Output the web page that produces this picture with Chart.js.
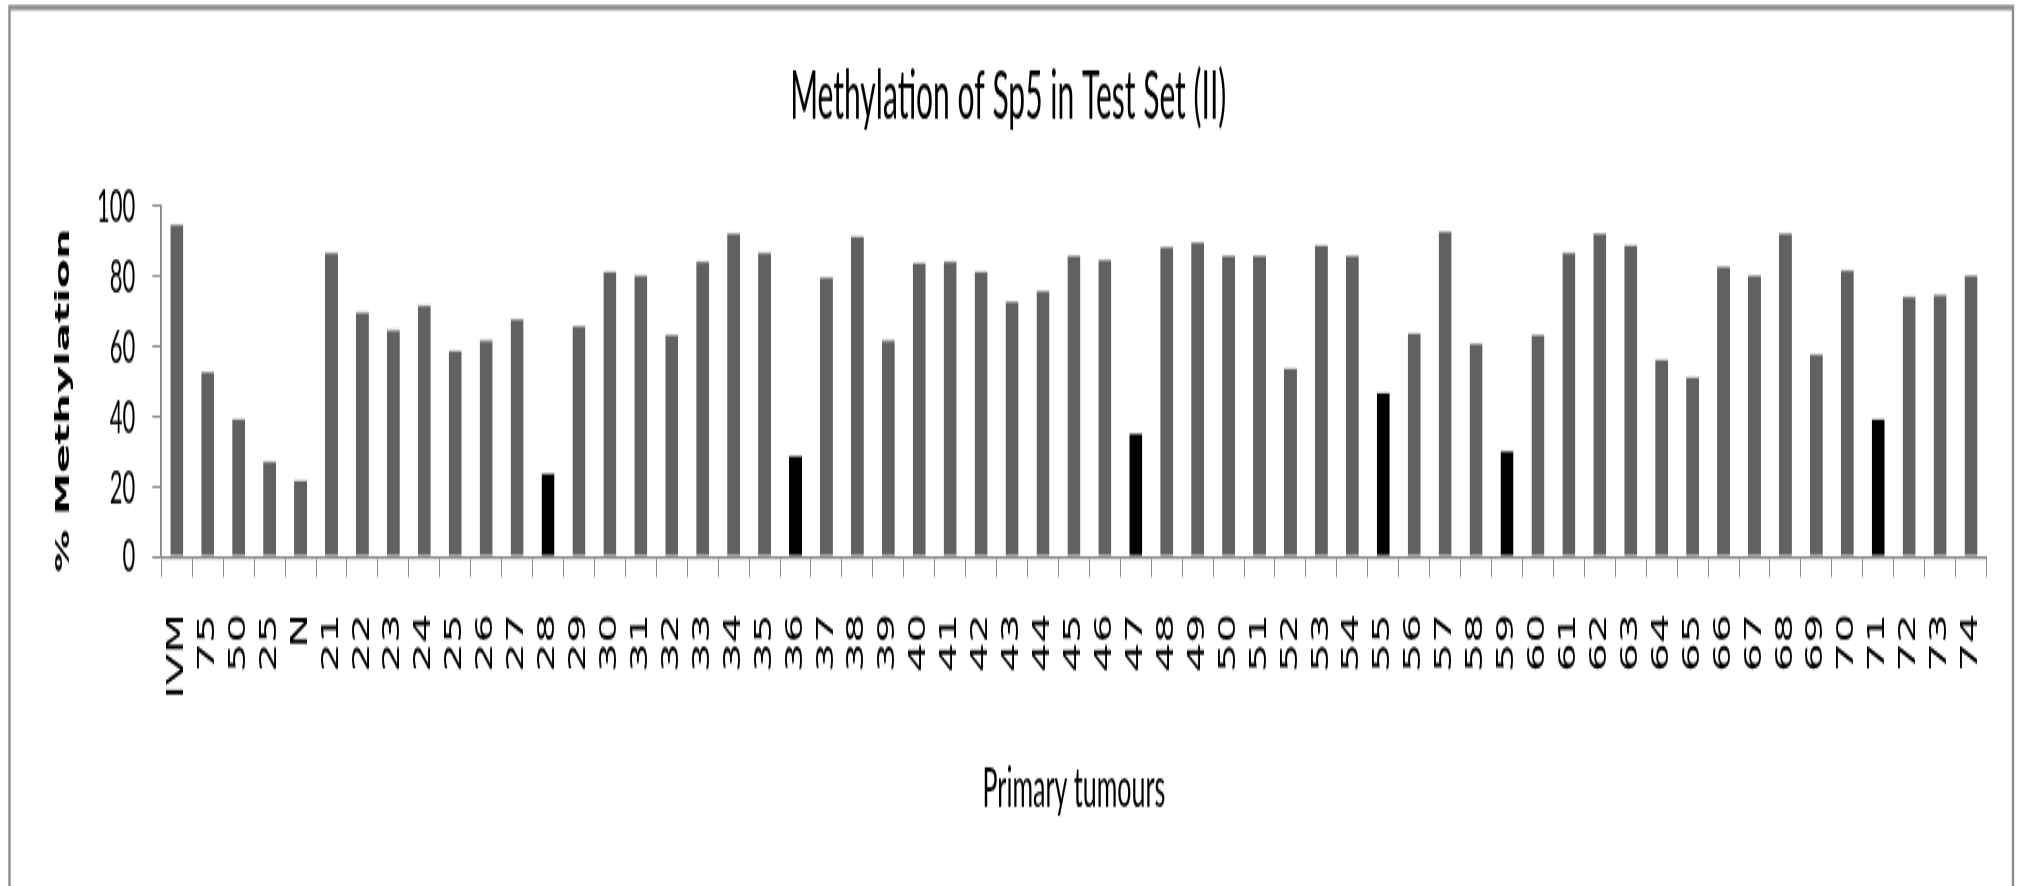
<!DOCTYPE html>
<html>
<head>
<meta charset="utf-8">
<title>Methylation of Sp5 in Test Set (II)</title>
<script src="https://cdn.jsdelivr.net/npm/chart.js@4/dist/chart.umd.min.js"></script>
<style>
  html, body { margin: 0; padding: 0; background: #ffffff; }
  #wrap { position: relative; width: 2018px; height: 886px; }
  /* The chart is drawn on a short canvas and stretched vertically to fill the page */
  #chart {
    position: absolute;
    left: 0;
    top: 0;
    display: block;
    width: 2018px;
    height: 403px;
    transform: scaleY(2.19851);
    transform-origin: 0 0;
  }
</style>
</head>
<body>
<div id="wrap">
<canvas id="chart" width="2018" height="403"></canvas>
</div>
<script>
// Sample labels along the x axis (controls first, then primary tumours)
const samples = [
  'IVM', '75', '50', '25', 'N',
  '21', '22', '23', '24', '25', '26', '27', '28', '29', '30',
  '31', '32', '33', '34', '35', '36', '37', '38', '39', '40',
  '41', '42', '43', '44', '45', '46', '47', '48', '49', '50',
  '51', '52', '53', '54', '55', '56', '57', '58', '59', '60',
  '61', '62', '63', '64', '65', '66', '67', '68', '69', '70',
  '71', '72', '73', '74'
];

// % methylation per sample
const methylation = [
  95, 53, 39.5, 27.5, 22,
  87, 70, 65, 72, 59, 62, 68, 24, 66, 81.5,
  80.5, 63.5, 84.5, 92.5, 87, 29, 80, 91.5, 62, 84,
  84.5, 81.5, 73, 76, 86, 85, 35.5, 88.5, 90, 86,
  86, 54, 89, 86, 47, 64, 93, 61, 30.5, 63.5,
  87, 92.5, 89, 56.5, 51.5, 83, 80.5, 92.5, 58, 82,
  39.5, 74.5, 75, 80.5
];

// Tumours drawn in black
const highlighted = [12, 20, 31, 39, 43, 55];

// Y axis tick values
const yTicks = [0, 20, 40, 60, 80, 100];

const barColors = methylation.map((_, i) => highlighted.includes(i) ? '#000000' : '#616161');
const axisGray = '#8a8a8a';

// Thin grey frame around the whole figure
const framePlugin = {
  id: 'frame',
  afterDraw(chart) {
    const ctx = chart.ctx;
    ctx.save();
    ctx.strokeStyle = '#8c8c8c';
    ctx.lineWidth = 2.4;
    ctx.strokeRect(9.5, 3.4, 2003.5, 440);
    ctx.restore();
  }
};

new Chart(document.getElementById('chart'), {
  type: 'bar',
  data: {
    labels: samples,
    datasets: [{
      data: methylation,
      backgroundColor: barColors,
      borderColor: '#b0b0b0',
      borderWidth: { top: 0.8, left: 0, right: 0, bottom: 0 },
      borderSkipped: 'bottom',
      barPercentage: 0.42,
      categoryPercentage: 1.0
    }]
  },
  options: {
    responsive: false,
    devicePixelRatio: 1,
    animation: false,
    layout: { padding: { left: 30, right: 31.5, top: 0, bottom: 0 } },
    plugins: {
      legend: { display: false },
      tooltip: { enabled: false },
      title: {
        display: true,
        text: 'Methylation of Sp5 in Test Set (II)',
        color: '#000000',
        font: { family: 'Lato', size: 30, weight: 'normal', lineHeight: 1.2 },
        padding: { top: 26.8, bottom: 30.9 }
      }
    },
    scales: {
      x: {
        offset: true,
        grid: {
          offset: true,
          drawOnChartArea: false,
          drawTicks: true,
          tickLength: 9.1,
          color: axisGray,
          lineWidth: 1
        },
        border: { display: true, color: axisGray, width: 1.2 },
        ticks: {
          autoSkip: false,
          minRotation: 90,
          maxRotation: 90,
          padding: 16.5,
          color: '#000000',
          font: { family: "'Liberation Sans Narrow', 'DejaVu Sans Condensed', sans-serif", size: 23.5 }
        },
        title: {
          display: true,
          text: 'Primary tumours',
          color: '#000000',
          font: { family: 'Lato', size: 25, weight: 'normal', lineHeight: 1.2 },
          padding: { top: 9.1, bottom: 29.5 }
        }
      },
      y: {
        min: 0,
        max: 100,
        afterBuildTicks(scale) {
          scale.ticks = yTicks.map(v => ({ value: v }));
        },
        grid: {
          drawOnChartArea: false,
          drawTicks: true,
          tickLength: 9,
          color: axisGray,
          lineWidth: 1
        },
        border: { display: true, color: axisGray, width: 1.8 },
        ticks: {
          padding: 17,
          color: '#000000',
          font: { family: 'Lato', size: 22 }
        },
        title: {
          display: true,
          text: '% Methylation\u00a0\u00a0\u2009',
          color: '#000000',
          font: { family: 'DejaVu Sans', size: 19.3, weight: 'bold', lineHeight: 1.2 },
          padding: { top: 22.6, bottom: 4.3 }
        }
      }
    }
  },
  plugins: [framePlugin]
});
</script>
</body>
</html>
